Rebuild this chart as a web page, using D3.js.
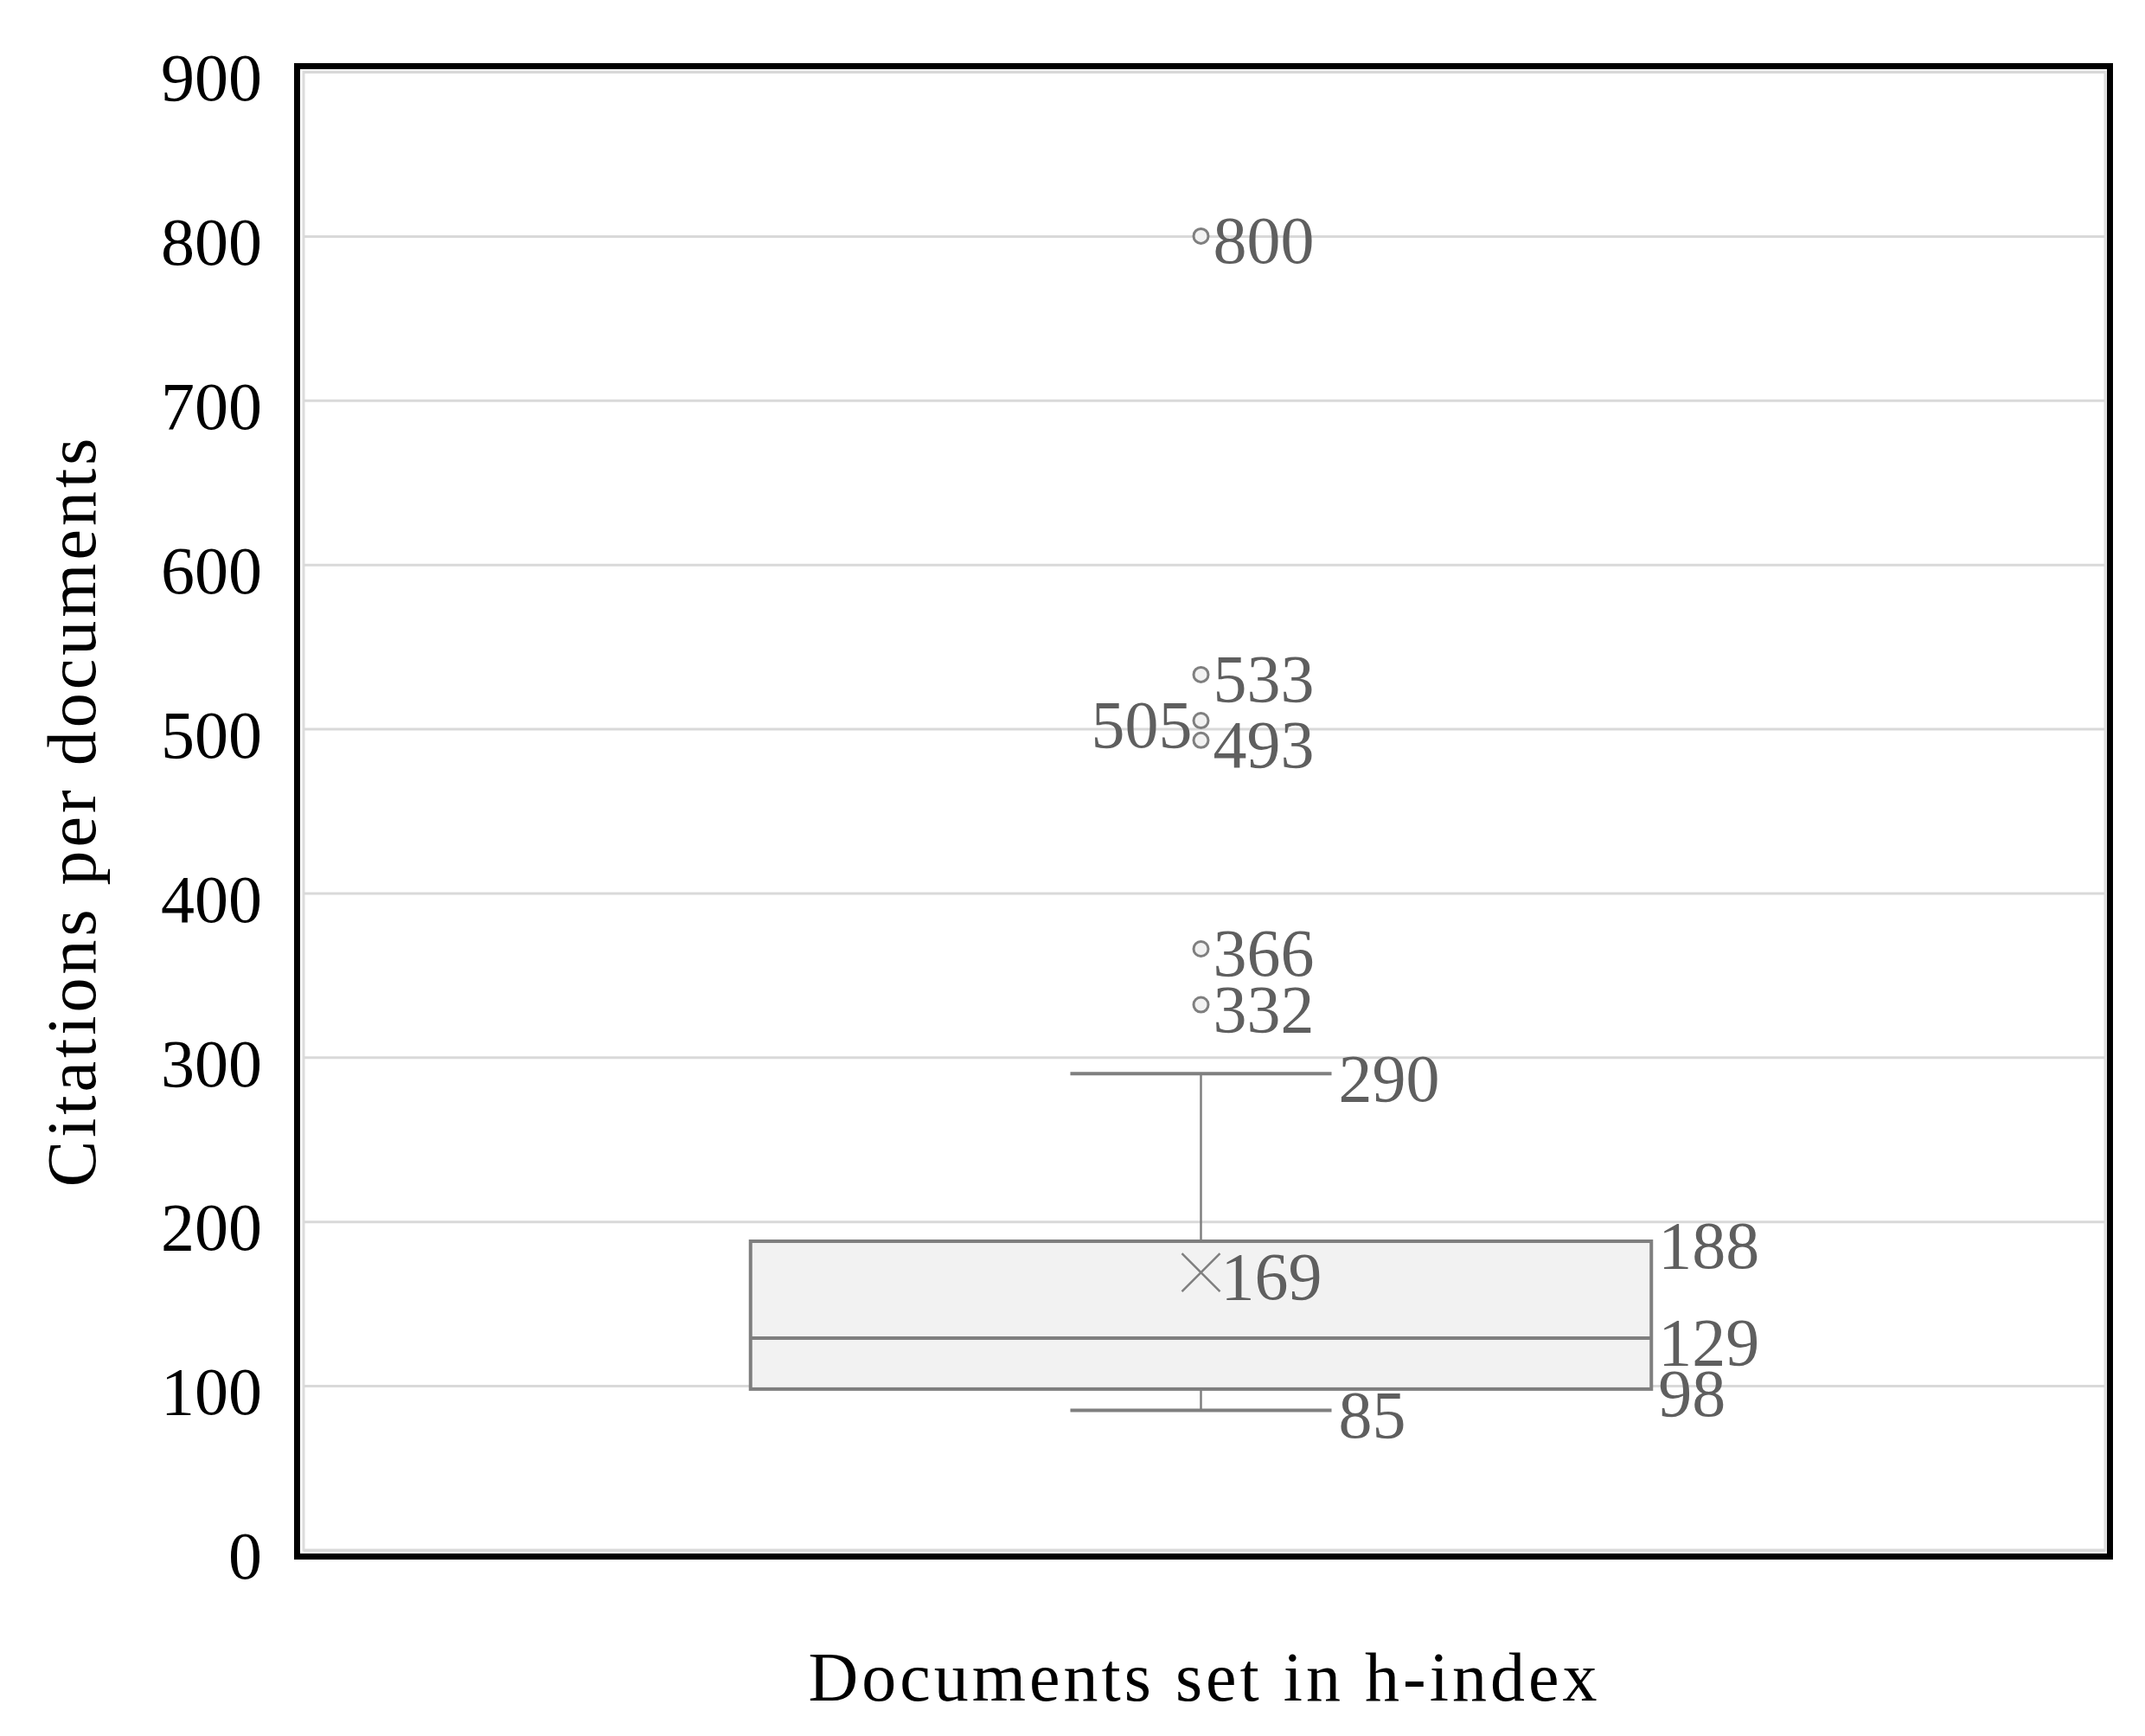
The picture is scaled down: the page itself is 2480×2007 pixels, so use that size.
<!DOCTYPE html>
<html>
<head>
<meta charset="utf-8">
<script src="https://cdn.jsdelivr.net/npm/d3@7"></script>
<style>
  body { margin: 0; background: #fff; }
  .grid line { stroke: #d9d9d9; stroke-width: 3; }
  .grid text { fill: #000; font-family: "Liberation Serif", serif; font-size: 78px; }
  .lbl { fill: #5f5f5f; font-family: "Liberation Serif", serif; font-size: 78px; }
  .title { fill: #000; font-family: "Liberation Serif", serif; font-size: 80px; letter-spacing: 4px; }
</style>
</head>
<body>
<svg id="chart" width="2480" height="2007"></svg>
<script>
// values
var category = ["Documents set in h-index"];
var yTicks = [0, 100, 200, 300, 400, 500, 600, 700, 800, 900];
var statNames = ["min", "q1", "median", "q3", "max", "mean"];
var statValues = [85, 98, 129, 188, 290, 169];
var outliers = [332, 366, 493, 505, 533, 800];
var yTitle = "Citations per documents";

var stat = {};
statNames.forEach(function(n, i){ stat[n] = statValues[i]; });

var svg = d3.select("#chart");
var width = +svg.attr("width");
var height = +svg.attr("height");

var plot = {left: 351, right: 2434, top: 83, bottom: 1792};

// box sits a hair left of the plot centre in the original
var x = d3.scaleBand()
    .domain(category)
    .range([plot.left - 4, plot.right - 4])
    .paddingInner(0)
    .paddingOuter(0.5);

var y = d3.scaleLinear()
    .domain([0, 900])
    .range([plot.bottom, plot.top]);

svg.append("rect").attr("width", width).attr("height", height).attr("fill", "#fff");

// inner plot area border
svg.append("rect")
    .attr("x", plot.left).attr("y", plot.top)
    .attr("width", plot.right - plot.left).attr("height", plot.bottom - plot.top)
    .attr("fill", "none").attr("stroke", "#dcdcdc").attr("stroke-width", 3);

// gridlines + tick labels
var yAxis = d3.axisLeft(y)
    .tickValues(yTicks)
    .tickSizeInner(-(plot.right - plot.left))
    .tickSizeOuter(0)
    .tickPadding(48);

var gy = svg.append("g")
    .attr("class", "grid")
    .attr("transform", "translate(" + plot.left + ",0)")
    .call(yAxis);
gy.select(".domain").remove();
gy.selectAll("text").attr("dy", "0.42em");

// outer black frame
svg.append("rect")
    .attr("x", 343.5).attr("y", 76.5)
    .attr("width", 2096).attr("height", 1723)
    .attr("fill", "none").attr("stroke", "#000").attr("stroke-width", 7);

var cat = category[0];
var cx = x(cat) + x.bandwidth() / 2;
var bw = x.bandwidth();
var capW = bw * 0.29;
var grey = "#7f7f7f";

var g = svg.append("g");

// whiskers
g.append("line")
    .attr("x1", cx).attr("x2", cx)
    .attr("y1", y(stat.max)).attr("y2", y(stat.q3))
    .attr("stroke", grey).attr("stroke-width", 2.5);
g.append("line")
    .attr("x1", cx).attr("x2", cx)
    .attr("y1", y(stat.q1)).attr("y2", y(stat.min))
    .attr("stroke", grey).attr("stroke-width", 2.5);
[stat.max, stat.min].forEach(function(v){
  g.append("line")
      .attr("x1", cx - capW / 2).attr("x2", cx + capW / 2)
      .attr("y1", y(v)).attr("y2", y(v))
      .attr("stroke", grey).attr("stroke-width", 4);
});

// box
g.append("rect")
    .attr("x", x(cat)).attr("y", y(stat.q3))
    .attr("width", bw).attr("height", y(stat.q1) - y(stat.q3))
    .attr("fill", "#f2f2f2").attr("stroke", grey).attr("stroke-width", 4);
g.append("line")
    .attr("x1", x(cat)).attr("x2", x(cat) + bw)
    .attr("y1", y(stat.median)).attr("y2", y(stat.median))
    .attr("stroke", grey).attr("stroke-width", 4);

// mean marker
var m = 22;
g.append("path")
    .attr("d", "M" + (cx - m) + "," + (y(stat.mean) - m) + "L" + (cx + m) + "," + (y(stat.mean) + m) +
               "M" + (cx - m) + "," + (y(stat.mean) + m) + "L" + (cx + m) + "," + (y(stat.mean) - m))
    .attr("stroke", grey).attr("stroke-width", 2.5).attr("fill", "none");

// outliers
g.selectAll("circle.out").data(outliers).enter().append("circle")
    .attr("class", "out")
    .attr("cx", cx).attr("cy", function(d){ return y(d); })
    .attr("r", 8.5)
    .attr("fill", "#f2f2f2").attr("stroke", grey).attr("stroke-width", 3);

// labels
function label(v, xPos, anchor){
  g.append("text")
      .attr("class", "lbl")
      .attr("x", xPos).attr("y", y(v))
      .attr("dy", "0.4em")
      .attr("text-anchor", anchor)
      .text(v);
}

var sorted = outliers.slice().sort(d3.ascending);
var lastRight = null;
sorted.forEach(function(v){
  if (lastRight !== null && v - lastRight < 20) {
    label(v, cx - 10, "end");
  } else {
    label(v, cx + 14, "start");
    lastRight = v;
  }
});

label(stat.max, cx + capW / 2 + 8, "start");
label(stat.min, cx + capW / 2 + 8, "start");
label(stat.q3, x(cat) + bw + 8, "start");
label(stat.median, x(cat) + bw + 8, "start");
label(stat.q1, x(cat) + bw + 8, "start");
label(stat.mean, cx + 23, "start");

// axis titles
svg.append("text")
    .attr("class", "title")
    .attr("x", (plot.left + plot.right) / 2)
    .attr("y", 1966)
    .attr("text-anchor", "middle")
    .text(cat);

svg.append("text")
    .attr("class", "title")
    .attr("transform", "translate(110," + ((plot.top + plot.bottom) / 2) + ") rotate(-90)")
    .attr("text-anchor", "middle")
    .text(yTitle);
</script>
</body>
</html>
